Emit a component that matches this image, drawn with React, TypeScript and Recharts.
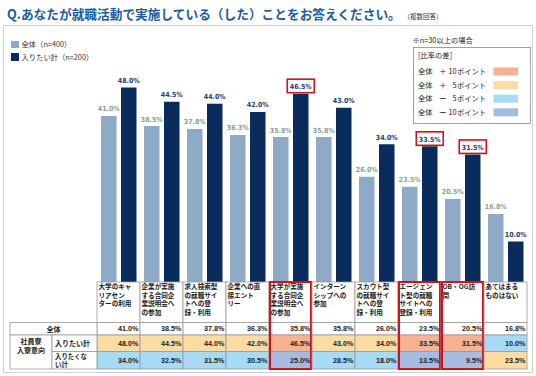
import { BarChart, Bar, XAxis, YAxis, LabelList, Legend } from 'recharts';

// category labels, wrapped the way the table shows them
const categoryLines = [
  ['大学のキャ', 'リアセン', 'ターの利用'],
  ['企業が実施', 'する合同企', '業説明会へ', 'の参加'],
  ['求人検索型', 'の就職サイ', 'トへの登', '録・利用'],
  ['企業への直', '接エント', 'リー'],
  ['大学が実施', 'する合同企', '業説明会へ', 'の参加'],
  ['インターン', 'シップへの', '参加'],
  ['スカウト型', 'の就職サイ', 'トへの登', '録・利用'],
  ['エージェン', 'ト型の就職', 'サイトへの', '登録・利用'],
  ['OB・OG訪', '問'],
  ['あてはまる', 'ものはない'],
];

const overall = [41.0, 38.5, 37.8, 36.3, 35.8, 35.8, 26.0, 23.5, 20.5, 16.8];
const wantIn = [48.0, 44.5, 44.0, 42.0, 46.5, 43.0, 34.0, 33.5, 31.5, 10.0];
const notWantIn = [34.0, 32.5, 31.5, 30.5, 25.0, 28.5, 18.0, 13.5, 9.5, 23.5];

const seriesKeys = ['overall', 'wantIn'];
const seriesNames = ['全体（n=400）', '入りたい計（n=200）'];
const diffLegend = [
  { sign: '＋', pts: 10, color: '#f5b394' },
  { sign: '＋', pts: 5, color: '#fddca4' },
  { sign: 'ー', pts: 5, color: '#a6daf5' },
  { sign: 'ー', pts: 10, color: '#a6bbe2' },
];

const data = categoryLines.map((lines, i) => ({
  name: lines.join(''),
  overall: overall[i],
  wantIn: wantIn[i],
}));

const JP = "'Noto Sans CJK JP', sans-serif";
const NUM = "'DejaVu Sans Condensed', 'DejaVu Sans', sans-serif";
const LIGHT = '#8eaac6';
const DARK = '#0a2c5c';
const RED = '#d3121b';
const GRID = '#9a9a9a';

const COL_W = 43;
const LABEL_H = 40.5;
const ROW_H = [12.5, 16.5, 17.5];

const diffColor = (d: number) =>
  d >= 10 ? diffLegend[0].color : d >= 5 ? diffLegend[1].color : d <= -10 ? diffLegend[3].color : d <= -5 ? diffLegend[2].color : '#fff';

const fmt = (v: number) => `${v.toFixed(1)}%`;

const TableTick = (props: any) => {
  const { x, y, payload } = props;
  const i = payload.index;
  const left = x - COL_W / 2;
  const rows = [
    { v: overall[i], fill: '#fff' },
    { v: wantIn[i], fill: diffColor(wantIn[i] - overall[i]) },
    { v: notWantIn[i], fill: diffColor(notWantIn[i] - overall[i]) },
  ];
  let ry = y + LABEL_H;
  const boxed = wantIn[i] - overall[i] >= 10;
  return (
    <g>
      <rect x={left} y={y} width={COL_W} height={LABEL_H} fill="#fff" stroke={GRID} strokeWidth={0.8} />
      {categoryLines[i].map((t, k) => (
        <text key={k} x={left + 1.5} y={y + 7.3 + k * 8.5} fontSize={6.6} fontWeight={700} fill="#1a1a1a" fontFamily={JP}>
          {t}
        </text>
      ))}
      {rows.map((r, k) => {
        const top = ry;
        ry += ROW_H[k];
        return (
          <g key={k}>
            <rect x={left} y={top} width={COL_W} height={ROW_H[k]} fill={r.fill} stroke={GRID} strokeWidth={0.8} />
            <text x={left + COL_W - 1.5} y={top + ROW_H[k] / 2 + 2.6} textAnchor="end" fontSize={7.2} fontWeight={700} fill="#222" fontFamily="'Liberation Sans', sans-serif">
              {fmt(r.v)}
            </text>
          </g>
        );
      })}
      {boxed && (
        <rect x={left + 1} y={y} width={COL_W - 2} height={LABEL_H + 46.5} fill="none" stroke={RED} strokeWidth={2} />
      )}
    </g>
  );
};

const LightLabel = (props: any) => {
  const { x, y, width, value } = props;
  return (
    <text x={x + width / 2} y={y - 4.5} textAnchor="middle" fontSize={7} fontWeight={700} fill="#86a08f" fontFamily={NUM}>
      {fmt(value)}
    </text>
  );
};

const DarkLabel = (props: any) => {
  const { x, y, width, value, index } = props;
  const cx = x + width / 2;
  const boxed = wantIn[index] - overall[index] >= 10;
  return (
    <g>
      {boxed && <rect x={cx - 13.5} y={y - 14.5} width={27} height={13.5} fill="#fff" stroke={RED} strokeWidth={1.6} />}
      <text x={cx} y={y - 4.5} textAnchor="middle" fontSize={7} fontWeight={700} fill="#1e3c6e" fontFamily={NUM}>
        {fmt(value)}
      </text>
    </g>
  );
};

const SeriesLegend = (props: any) => {
  const items = [...(props.payload || [])].sort(
    (a: any, b: any) => seriesKeys.indexOf(a.dataKey) - seriesKeys.indexOf(b.dataKey),
  );
  return (
    <div style={{ fontFamily: JP, fontSize: 7.3, color: '#333' }}>
      {items.map((p: any, k: number) => (
        <div key={k} style={{ display: 'flex', alignItems: 'center', height: 12.5 }}>
          <span style={{ display: 'inline-block', width: 7.5, height: 7.5, background: p.color, marginRight: 3 }} />
          {p.value}
        </div>
      ))}
    </div>
  );
};

export default function App() {
  return (
    <div style={{ position: 'absolute', left: 0, top: 0, width: 536, height: 376, background: '#fff', overflow: 'hidden', fontFamily: JP }}>
      <div style={{ position: 'absolute', left: 3, top: 25, width: 528, height: 346, border: '1px solid #cfcfcf' }} />
      <div style={{ position: 'absolute', left: 7, top: 4, fontSize: 12.7, fontWeight: 700, color: '#1c5b9f', whiteSpace: 'nowrap' }}>
        Q.あなたが就職活動で実施している（した）ことをお答えください。
        <span style={{ fontSize: 6.5, color: '#333', fontWeight: 400, marginLeft: 6 }}>（複数回答）</span>
      </div>
      <div style={{ position: 'absolute', left: 0, top: 0 }}>
        <BarChart width={536} height={376} data={data} barSize={15.5} barGap={4.5} margin={{ top: 79.5, right: 9, left: 97, bottom: 0 }}>
          <YAxis hide domain={[0, 50]} />
          <XAxis dataKey="name" interval={0} height={94} tickLine={false} axisLine={false} tickSize={0} tickMargin={0} tick={<TableTick />} />
          <Legend
            layout="horizontal"
            verticalAlign="middle"
            align="center"
            wrapperStyle={{ left: 11, top: 38, width: 120 }}
            content={<SeriesLegend />}
          />
          <Bar dataKey="overall" name={seriesNames[0]} fill={LIGHT} isAnimationActive={false}>
            <LabelList dataKey="overall" content={<LightLabel />} />
          </Bar>
          <Bar dataKey="wantIn" name={seriesNames[1]} fill={DARK} isAnimationActive={false}>
            <LabelList dataKey="wantIn" content={<DarkLabel />} />
          </Bar>
        </BarChart>
      </div>
      <svg width={536} height={376} style={{ position: 'absolute', left: 0, top: 0, pointerEvents: 'none' }} fontFamily={JP}>
        {/* left header of the table */}
        <rect x={10} y={322.5} width={87} height={12.5} fill="#fff" stroke={GRID} strokeWidth={0.8} />
        <text x={53.5} y={331.5} textAnchor="middle" fontSize={7} fontWeight={700} fill="#222">全体</text>
        <rect x={10} y={335} width={42} height={34} fill="#fff" stroke={GRID} strokeWidth={0.8} />
        <text x={31} y={344} textAnchor="middle" fontSize={7} fontWeight={700} fill="#222">
          <tspan x={31}>社員寮</tspan>
          <tspan x={31} dy={8.5}>入寮意向</tspan>
        </text>
        <rect x={52} y={335} width={45} height={16.5} fill="#fff" stroke={GRID} strokeWidth={0.8} />
        <text x={55} y={346} fontSize={7} fontWeight={700} fill="#222">入りたい計</text>
        <rect x={52} y={351.5} width={45} height={17.5} fill="#fff" stroke={GRID} strokeWidth={0.8} />
        <text x={55} y={358.6} fontSize={6.4} fontWeight={700} fill="#222">
          <tspan x={55}>入りたくな</tspan>
          <tspan x={55} dy={8.8}>い計</tspan>
        </text>

        {/* difference legend */}
        <text x={412.5} y={42.5} fontSize={7.3} fill="#222">{'\u203B'}n=30以上の場合</text>
        <rect x={413.5} y={47.5} width={117} height={76} fill="#fff" stroke="#8a8a8a" strokeWidth={0.8} />
        <text x={418} y={58} fontSize={7.3} fill="#222">[比率の差]</text>
        {diffLegend.map((d, k) => {
          const cy = 71.5 + k * 13.6;
          return (
            <g key={k}>
              <text x={418} y={cy + 2.6} fontSize={7.3} fill="#222">全体</text>
              <text x={443} y={cy + 2.6} textAnchor="middle" fontSize={7.3} fill="#222">{d.sign}</text>
              <text x={456.5} y={cy + 2.6} textAnchor="end" fontSize={7.3} fill="#222">{d.pts}</text>
              <text x={457} y={cy + 2.6} fontSize={7.3} fill="#222">ポイント</text>
              <rect x={493.5} y={cy - 4} width={24.5} height={8} fill={d.color} />
            </g>
          );
        })}
      </svg>
    </div>
  );
}
